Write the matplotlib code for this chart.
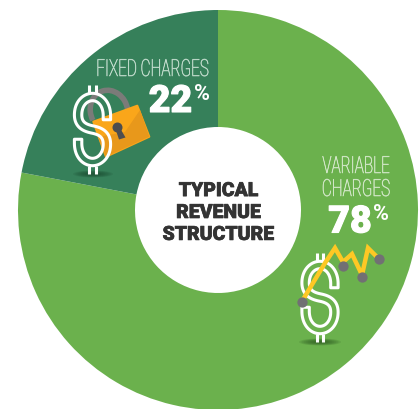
import numpy as np
import matplotlib
matplotlib.use("Agg")
import matplotlib.pyplot as plt
from matplotlib.path import Path
from matplotlib.patches import Polygon, Ellipse, Circle, Arc
from matplotlib.patheffects import AbstractPathEffect, withStroke
from matplotlib.transforms import Affine2D

W, H = 419, 409

labels = ["VARIABLE\nCHARGES", "FIXED CHARGES"]
shares = [78, 22]
colors = ["#6bb14d", "#36805a"]

CX, CY = 218, 210
R_OUT, R_IN = 200, 83

# price line on the variable charges icon
trend_x = [301.7, 325, 335, 343, 352, 362, 368, 379]
trend_y = [301.7, 263, 248, 262, 254, 275, 248, 259]
dot_x = [301.7, 343, 362, 379]
dot_y = [301.7, 265.5, 276.5, 259]


class Squeeze(AbstractPathEffect):
    # rescales text width around a vertical line, given in display pixels
    def __init__(self, x_center, factor):
        super().__init__()
        self.x_center = x_center
        self.factor = factor

    def draw_path(self, renderer, gc, tpath, affine, rgbFace=None):
        squeeze = Affine2D().translate(-self.x_center, 0).scale(self.factor, 1).translate(self.x_center, 0)
        renderer.draw_path(gc, tpath, affine + squeeze, rgbFace)
        gc.set_linewidth(0.4)
        renderer.draw_path(gc, tpath, affine + squeeze, None)


def s_curve():
    # centre line of the S, x and y both in -1..1 with y pointing down
    verts = [(0.9, -0.3), (0.9, -0.42),
             (0.9, -0.8), (0.45, -1), (0, -1),
             (-0.45, -1), (-0.9, -0.8), (-0.9, -0.45),
             (-0.9, -0.15), (-0.5, -0.05), (0, 0),
             (0.5, 0.05), (0.9, 0.15), (0.9, 0.45),
             (0.9, 0.8), (0.45, 1), (0, 1),
             (-0.45, 1), (-0.9, 0.8), (-0.9, 0.42),
             (-0.9, 0.3)]
    codes = [Path.MOVETO, Path.LINETO] + [Path.CURVE4] * 18 + [Path.LINETO]
    return Path(verts, codes)


def draw_dollar(ax, cx, top, bottom, half_w=16):
    # outlined dollar sign, the inside of the stroke stays see-through
    body_top, body_bot = top + 12, bottom - 12
    mid = (body_top + body_bot) / 2
    half_h = (body_bot - body_top) / 2
    # flatten at a large scale, the curves come out angular otherwise
    pts = s_curve().transformed(Affine2D().scale(500)).to_polygons(closed_only=False)[0] / 500
    x = cx + pts[:, 0] * half_w
    y = mid + pts[:, 1] * half_h

    dx, dy = np.gradient(x), np.gradient(y)
    n = np.hypot(dx, dy)
    n[n == 0] = 1
    nx, ny = -dy / n, dx / n
    d = 3.7
    outline = np.vstack([np.column_stack([x + nx * d, y + ny * d]),
                         np.column_stack([x - nx * d, y - ny * d])[::-1]])
    ax.add_patch(Polygon(outline, closed=True, fill=False, ec="white", lw=2.2,
                         joinstyle="round", zorder=6))
    for off in (-3.4, 3.4):
        ax.plot([cx + off, cx + off], [top, top + 8], color="white", lw=2.2,
                solid_capstyle="butt", zorder=6)
        ax.plot([cx + off, cx + off], [bottom - 8, bottom], color="white", lw=2.2,
                solid_capstyle="butt", zorder=6)


def draw_shadow(ax, cx, cy, width, color):
    for k in np.linspace(1, 0.25, 8):
        ax.add_patch(Ellipse((cx, cy), width * k, 7 * k, fc=color, ec="none",
                             alpha=0.16, zorder=3))


fig = plt.figure(figsize=(W / 100, H / 100), dpi=100)
fig.patch.set_facecolor("white")

ax = fig.add_axes([0, 0, 1, 1])
ax.pie(shares, colors=colors, startangle=90 + 79.2, center=(CX, H - CY), radius=R_OUT,
       wedgeprops=dict(width=R_OUT - R_IN, linewidth=0), frame=True)
ax.set_xlim(0, W)
ax.set_ylim(0, H)
ax.set_aspect("equal")
ax.axis("off")

# icons and labels use image style coordinates, y going down
top = fig.add_axes([0, 0, 1, 1])
top.set_xlim(0, W)
top.set_ylim(H, 0)
top.patch.set_alpha(0)
top.axis("off")

# padlock
draw_shadow(top, 93, 174, 40, "#1d4d33")
top.add_patch(Arc((109, 111), 37, 42, angle=-20, theta1=170, theta2=375,
                  ec="#7b7b79", lw=4, zorder=4))
lock_body = [(93.3, 121.7), (137.3, 105.7), (149.3, 136.7), (106, 156.7)]
lock_dark = [(98, 137), (125, 132), (140, 110), (149.3, 136.7), (106, 156.7)]
top.add_patch(Polygon(lock_body, closed=True, fc="#faa61a", ec="#faa61a", lw=1.5,
                      joinstyle="round", zorder=5))
top.add_patch(Polygon(lock_dark, closed=True, fc="#e8981b", ec="none", zorder=5))
top.add_patch(Circle((117.5, 127.5), 5, fc="#4d4d4f", ec="none", zorder=5))
top.add_patch(Polygon([(115.5, 129), (120, 128), (125.5, 137.5), (119, 139.5)], closed=True,
                      fc="#4d4d4f", ec="none", zorder=5))
draw_dollar(top, 92.5, 85, 174)

# variable charges icon
draw_shadow(top, 320, 342, 42, "#2f5d22")
draw_dollar(top, 320, 253, 342)
top.plot(trend_x, trend_y, color="#fdc824", lw=3.2, solid_joinstyle="miter", zorder=7)
top.scatter(dot_x, dot_y, s=55, color="#717073", linewidths=0, zorder=8)

# wedge labels, tall and narrow
top.text(152.5, 69.5, labels[1], ha="center", va="center", color="#bcd8c8", fontsize=17,
         family="Roboto", weight="light", zorder=9,
         path_effects=[Squeeze(152.5, 0.65)])
top.text(356, 178, labels[0], ha="center", va="center", color="#cfe5c4", fontsize=17,
         family="Roboto", weight="light", linespacing=1.0, zorder=9,
         path_effects=[Squeeze(356, 0.65)])

heavy = [withStroke(linewidth=0.8, foreground="white")]
top.text(170.5, 101.5, "%d" % shares[1], ha="center", va="center", color="white", fontsize=27,
         family="Roboto", weight="black", zorder=9, path_effects=heavy)
top.text(202, 94.5, "%", ha="center", va="center", color="white", fontsize=15.5,
         family="Roboto", weight="bold", zorder=9)
top.text(350, 222, "%d" % shares[0], ha="center", va="center", color="white", fontsize=27,
         family="Roboto", weight="black", zorder=9, path_effects=heavy)
top.text(380.5, 214.5, "%", ha="center", va="center", color="white", fontsize=15.5,
         family="Roboto", weight="bold", zorder=9)

# centre title
top.text(218.5, 213, "TYPICAL\nREVENUE\nSTRUCTURE", ha="center", va="center", color="#333333",
         fontsize=14, family="Roboto", weight="black", linespacing=1.28, zorder=9,
         path_effects=[withStroke(linewidth=0.5, foreground="#333333")])

fig.savefig("out.png", dpi=100)
